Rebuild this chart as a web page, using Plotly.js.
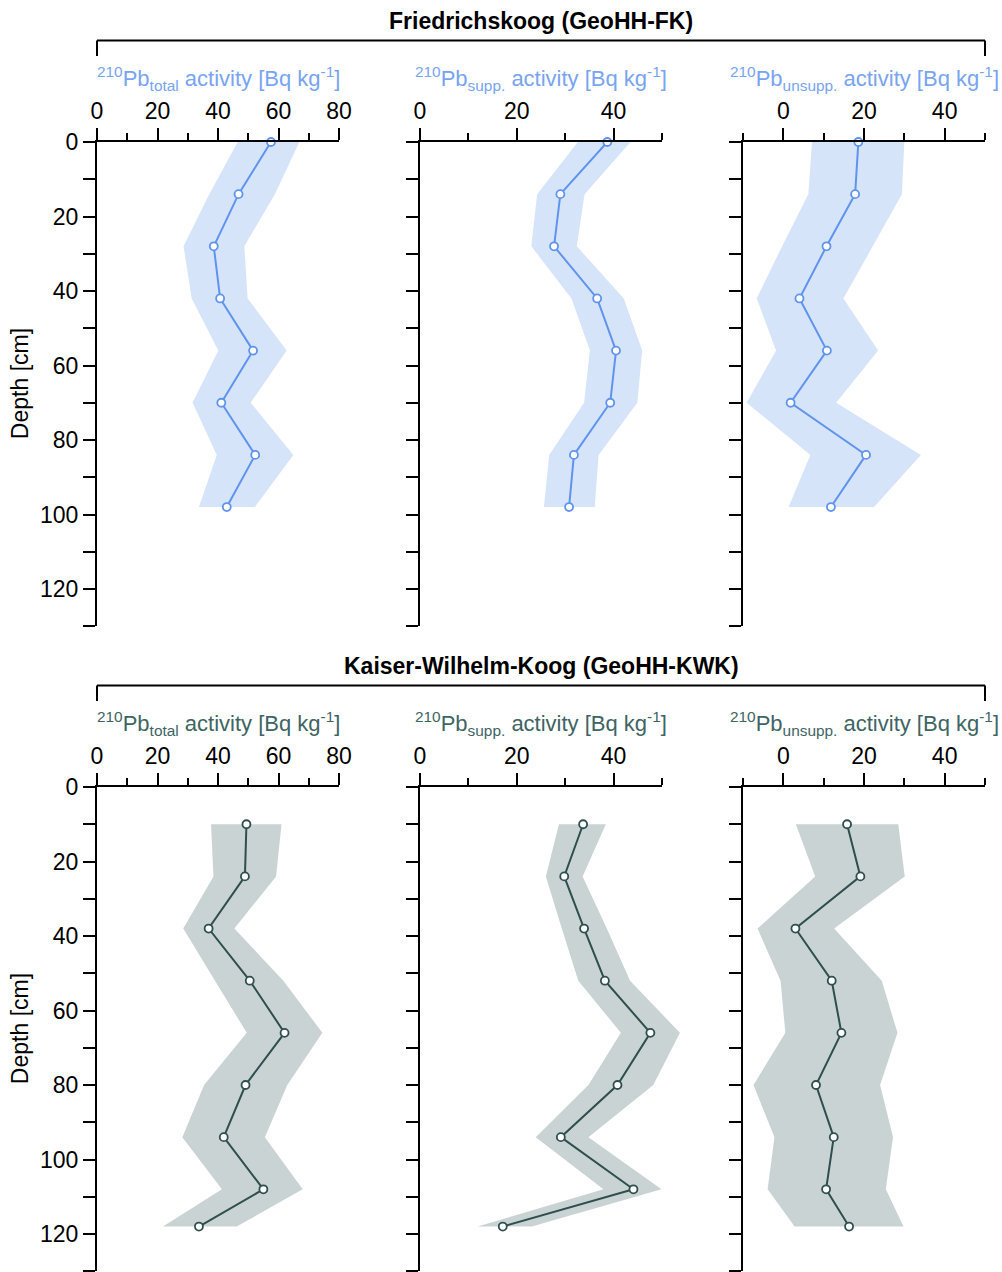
<!DOCTYPE html>
<html><head><meta charset="utf-8">
<script src="https://cdn.plot.ly/plotly-3.0.1.min.js"></script>
<style>html,body{margin:0;padding:0;background:#fff}#chart{width:1002px;height:1272px}</style>
</head><body><div id="chart"></div>
<script>
// ---------- Friedrichskoog (GeoHH-FK) ----------
const fkDepth      = [0, 14, 28, 42, 56, 70, 84, 98];
const fkTotal      = [57.5, 46.8, 38.6, 40.7, 51.6, 41.1, 52.3, 42.9];
const fkTotalLo    = [46.5, 37.1, 28.6, 31.3, 40.1, 31.6, 39.6, 33.7];
const fkTotalHi    = [66.9, 58.8, 48.7, 49.8, 62.7, 50.8, 64.9, 52.2];
const fkSupp       = [38.7, 29.0, 27.7, 36.6, 40.5, 39.3, 31.8, 30.8];
const fkSuppLo     = [32.6, 24.2, 23.0, 31.3, 35.1, 33.9, 26.7, 25.6];
const fkSuppHi     = [43.5, 34.0, 32.4, 42.1, 45.9, 44.9, 36.9, 36.1];
const fkUnsupp     = [18.6, 17.8, 10.7, 4.0, 10.8, 1.8, 20.5, 11.8];
const fkUnsuppLo   = [7.1, 6.2, -0.3, -6.6, -1.8, -9.1, 6.7, 1.3];
const fkUnsuppHi   = [30.0, 29.4, 22.1, 14.9, 23.5, 13.1, 34.1, 22.5];

// ---------- Kaiser-Wilhelm-Koog (GeoHH-KWK) ----------
const kwkDepth     = [10, 24, 38, 52, 66, 80, 94, 108, 118];
const kwkTotal     = [49.4, 48.9, 36.9, 50.5, 62.0, 49.1, 41.9, 55.0, 33.7];
const kwkTotalLo   = [37.7, 38.5, 28.5, 39.0, 49.5, 35.4, 28.2, 41.3, 21.8];
const kwkTotalHi   = [61.0, 59.2, 45.4, 61.6, 74.5, 62.9, 55.5, 68.0, 46.2];
const kwkSupp      = [33.7, 29.8, 33.9, 38.2, 47.6, 40.8, 29.1, 44.1, 17.1];
const kwkSuppLo    = [28.7, 26.0, 29.3, 32.7, 41.5, 34.8, 23.9, 37.9, 11.9];
const kwkSuppHi    = [38.4, 33.6, 38.6, 43.4, 53.7, 48.2, 34.8, 49.9, 23.1];
const kwkUnsupp    = [15.8, 19.1, 3.0, 12.0, 14.4, 8.1, 12.5, 10.6, 16.3];
const kwkUnsuppLo  = [3.1, 7.9, -6.4, -0.7, 0.5, -7.4, -2.2, -3.9, 2.8];
const kwkUnsuppHi  = [28.5, 30.1, 12.6, 24.4, 28.3, 24.0, 27.2, 25.4, 29.8];

// ---------- labels ----------
const siteTitles = ['Friedrichskoog (GeoHH-FK)', 'Kaiser-Wilhelm-Koog (GeoHH-KWK)'];
const axisTitles = [
  '<sup>210</sup>Pb<sub>total</sub> activity [Bq kg<sup>-1</sup>]',
  '<sup>210</sup>Pb<sub>supp.</sub> activity [Bq kg<sup>-1</sup>]',
  '<sup>210</sup>Pb<sub>unsupp.</sub> activity [Bq kg<sup>-1</sup>]'
];
const depthTitle = 'Depth [cm]';
const xRanges = [[0, 80], [0, 50], [-10, 50]];
const depthRange = [130, 0];

// ---------- styling ----------
const W = 1002, H = 1272;
const FONT = 'Liberation Sans, Arial, Helvetica, sans-serif';
const colTop = {line: '#5f93ee', band: '#d6e4fa', text: '#78a4f1'};
const colBot = {line: '#2f4f4f', band: '#cad3d4', text: '#3e6464'};
const panelX = [[97, 339], [420, 662], [743, 985]];
const rowTop = [142, 787];           // pixel y of depth 0
const rowBottom = [626.25, 1271.25]; // pixel y of depth 130

const px = v => v / W;
const py = v => 1 - v / H;

const sites = [
  {depth: fkDepth, col: colTop, series: [
    [fkTotal, fkTotalLo, fkTotalHi], [fkSupp, fkSuppLo, fkSuppHi], [fkUnsupp, fkUnsuppLo, fkUnsuppHi]]},
  {depth: kwkDepth, col: colBot, series: [
    [kwkTotal, kwkTotalLo, kwkTotalHi], [kwkSupp, kwkSuppLo, kwkSuppHi], [kwkUnsupp, kwkUnsuppLo, kwkUnsuppHi]]}
];

const data = [];
const layout = {
  width: W, height: H, margin: {l: 0, r: 0, t: 0, b: 0},
  paper_bgcolor: '#fff', plot_bgcolor: 'rgba(0,0,0,0)',
  showlegend: false, font: {family: FONT, size: 22, color: '#000'},
  annotations: [], shapes: []
};

let extra = 7;
sites.forEach((site, r) => {
  const yDom = [py(rowBottom[r]), py(rowTop[r])];
  site.series.forEach((s, c) => {
    const idx = r * 3 + c + 1;
    const xn = idx === 1 ? 'xaxis' : 'xaxis' + idx;
    const yn = idx === 1 ? 'yaxis' : 'yaxis' + idx;
    const xrMain = idx === 1 ? 'x' : 'x' + idx;
    let xr = xrMain;
    const yr = idx === 1 ? 'y' : 'y' + idx;
    const xDom = [px(panelX[c][0]), px(panelX[c][1])];
    layout[xn] = {
      domain: xDom, range: xRanges[c], side: 'top', anchor: yr,
      showline: true, linecolor: '#000', linewidth: 2,
      ticks: 'outside', ticklen: 12, tickwidth: 2, tickcolor: '#000',
      tick0: 0, dtick: 20,
      minor: {tick0: 0, dtick: 10, ticks: 'outside', ticklen: 7, tickwidth: 2, tickcolor: '#000', showgrid: false},
      showgrid: false, zeroline: false, fixedrange: true,
      tickfont: {family: FONT, size: 23, color: '#000'}
    };
    layout[yn] = {
      domain: yDom, range: depthRange, anchor: xrMain,
      showline: true, linecolor: '#000', linewidth: 2,
      ticks: 'outside', ticklen: 12, tickwidth: 2, tickcolor: '#000',
      tick0: 0, dtick: 20,
      minor: {tick0: 0, dtick: 10, ticks: 'outside', ticklen: 12, tickwidth: 2, tickcolor: '#000', showgrid: false},
      showticklabels: c === 0,
      showgrid: false, zeroline: false, fixedrange: true,
      tickfont: {family: FONT, size: 23, color: '#000'}
    };
    const [val, lo, hi] = s;
    // if the band pokes outside the axis range, draw this panel's traces on a hidden,
    // wider axis with the identical scale so nothing is clipped at the panel edge
    const overflow = Math.max(...hi) > xRanges[c][1] || Math.min(...lo) < xRanges[c][0];
    if (overflow) {
      const span = xRanges[c][1] - xRanges[c][0];
      const pxPerUnit = (panelX[c][1] - panelX[c][0]) / span;
      const padPx = 40;
      const bx = 'xaxis' + extra;
      layout[bx] = {
        domain: [px(panelX[c][0] - padPx), px(panelX[c][1] + padPx)],
        range: [xRanges[c][0] - padPx / pxPerUnit, xRanges[c][1] + padPx / pxPerUnit],
        visible: false, anchor: yr, fixedrange: true
      };
      xr = 'x' + extra;
      extra++;
      // transparent copy on the visible axes so that panel's subplot (axes) is still built
      data.push({
        type: 'scatter', mode: 'markers', xaxis: xrMain, yaxis: yr,
        x: val, y: site.depth, marker: {opacity: 0, size: 1}, hoverinfo: 'skip'
      });
    }
    data.push({
      type: 'scatter', mode: 'lines', xaxis: xr, yaxis: yr,
      x: lo.concat(hi.slice().reverse()),
      y: site.depth.concat(site.depth.slice().reverse()),
      fill: 'toself', fillcolor: site.col.band, line: {width: 0, color: site.col.band},
      hoverinfo: 'skip'
    });
    data.push({
      type: 'scatter', mode: 'lines+markers', xaxis: xr, yaxis: yr,
      x: val, y: site.depth, cliponaxis: false,
      line: {color: site.col.line, width: 2},
      marker: {symbol: 'circle', size: 8, color: '#fff', line: {color: site.col.line, width: 1.8}}
    });
    // axis title
    layout.annotations.push({
      xref: 'paper', yref: 'paper',
      x: (xDom[0] + xDom[1]) / 2, y: py(rowTop[r] - 64),
      xanchor: 'center', yanchor: 'middle', showarrow: false,
      text: axisTitles[c], font: {family: FONT, size: 22, color: site.col.text}
    });
  });
  // depth title
  layout.annotations.push({
    xref: 'paper', yref: 'paper', x: px(20), y: py((rowTop[r] + rowBottom[r]) / 2),
    xanchor: 'center', yanchor: 'middle', textangle: -90, showarrow: false,
    text: depthTitle, font: {family: FONT, size: 23, color: '#000'}
  });
  // site title
  layout.annotations.push({
    xref: 'paper', yref: 'paper', x: px((panelX[0][0] + panelX[2][1]) / 2), y: py(rowTop[r] - 121),
    xanchor: 'center', yanchor: 'middle', showarrow: false,
    text: '<b>' + siteTitles[r] + '</b>', font: {family: FONT, size: 23, color: '#000'}
  });
  // bracket
  const by = rowTop[r] - 101.5, bEnd = rowTop[r] - 86;
  const bl = panelX[0][0], br = panelX[2][1];
  const ln = {color: '#000', width: 2};
  layout.shapes.push({type: 'line', xref: 'paper', yref: 'paper', x0: px(bl), x1: px(br), y0: py(by), y1: py(by), line: ln});
  layout.shapes.push({type: 'line', xref: 'paper', yref: 'paper', x0: px(bl), x1: px(bl), y0: py(by), y1: py(bEnd), line: ln});
  layout.shapes.push({type: 'line', xref: 'paper', yref: 'paper', x0: px(br), x1: px(br), y0: py(by), y1: py(bEnd), line: ln});
});

Plotly.newPlot('chart', data, layout, {displayModeBar: false, staticPlot: true});
</script>
</body></html>
